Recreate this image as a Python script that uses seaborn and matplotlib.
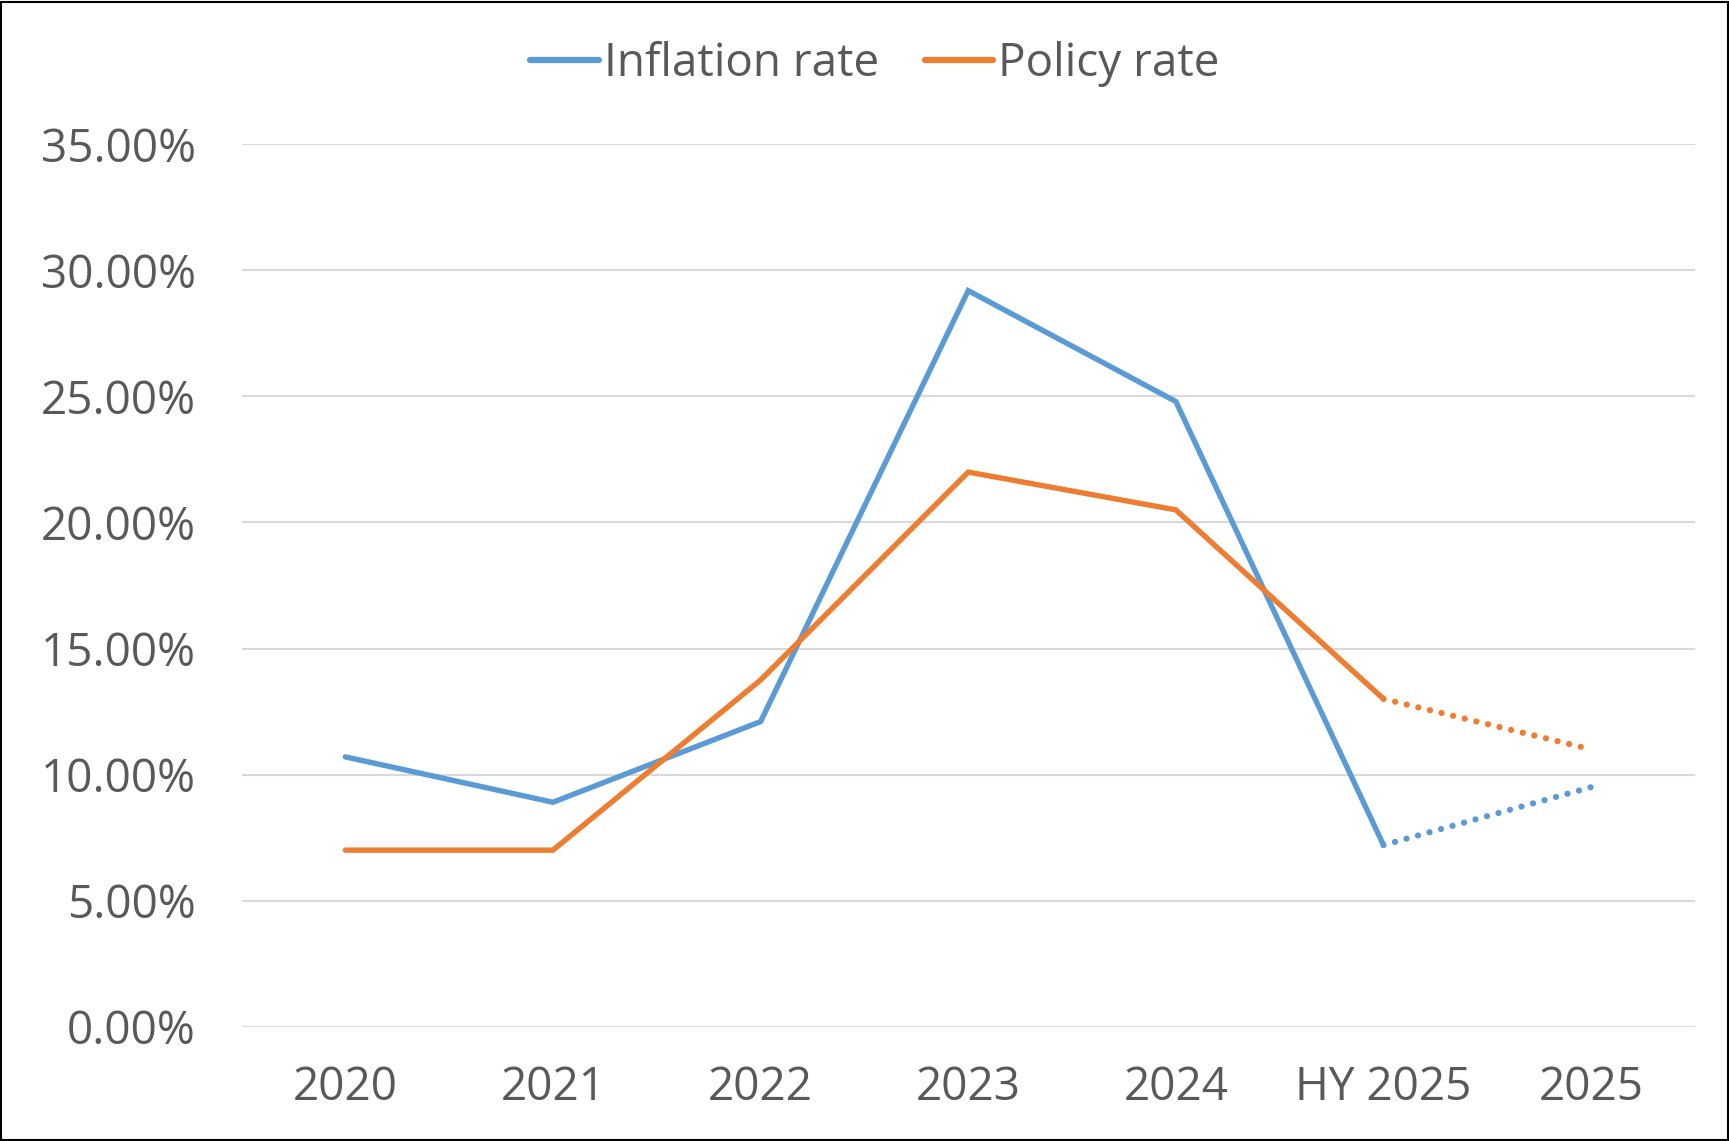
import matplotlib
matplotlib.use("Agg")
import matplotlib.pyplot as plt
import seaborn as sns
import pandas as pd
from matplotlib.patches import Rectangle
from matplotlib.ticker import FuncFormatter

categories = ["2020", "2021", "2022", "2023", "2024", "HY 2025", "2025"]
inflation = [10.7, 8.9, 12.1, 29.2, 24.8, 7.2, 9.5]
policy = [7.0, 7.0, 13.75, 22.0, 20.5, 13.0, 11.0]
series_names = ["Inflation rate", "Policy rate"]
y_ticks = [0, 5, 10, 15, 20, 25, 30, 35]

sns.set_theme(style="white")
fonts = ["Liberation Sans Narrow", "Open Sans", "DejaVu Sans"]
plt.rcParams["font.family"] = fonts
TXT = "#595959"
BLUE = "#5B9BD5"
ORANGE = "#ED7D31"

rows = []
for i, c in enumerate(categories):
    rows.append({"cat": c, "x": i, "val": inflation[i], "series": series_names[0]})
    rows.append({"cat": c, "x": i, "val": policy[i], "series": series_names[1]})
df = pd.DataFrame(rows)
split = 5  # index of HY 2025: solid up to it, dotted after
solid = df[df["x"] <= split]
dotted = df[df["x"] >= split]

fig = plt.figure(figsize=(17.29, 11.41), dpi=100)
ax = fig.add_axes([0.1397, 0.1003, 0.8406, 0.7731])

LW = 3.9
palette = {series_names[0]: BLUE, series_names[1]: ORANGE}
sns.lineplot(data=solid, x="x", y="val", hue="series", palette=palette,
             linewidth=LW, ax=ax, legend=True, solid_capstyle="round",
             solid_joinstyle="miter")
sns.lineplot(data=dotted, x="x", y="val", hue="series", palette=palette,
             linewidth=LW + 0.6, ax=ax, legend=False)
for line in ax.lines[-2:]:
    line.set_linestyle((0, (0.01, 1.9)))
    line.set_dash_capstyle("round")

ax.set_xlim(-0.5, len(categories) - 0.5)
ax.set_ylim(0, 35)
ax.set_xticks(range(len(categories)))
ax.set_xticklabels(categories)
ax.set_yticks(y_ticks)
ax.yaxis.set_major_formatter(FuncFormatter(lambda v, p: f"{v:.2f}%"))
ax.grid(axis="y", color="#D9D9D9", linewidth=1.5)
ax.set_axisbelow(True)
for s in ax.spines.values():
    s.set_visible(False)
ax.tick_params(axis="both", length=0, labelsize=33, colors=TXT)
ax.tick_params(axis="y", pad=33)
ax.tick_params(axis="x", pad=28)
ax.set_xlabel("")
ax.set_ylabel("")

handles, labels = ax.get_legend_handles_labels()
ax.get_legend().remove()
leg = fig.legend(handles[:2], labels[:2], loc="center", bbox_to_anchor=(0.506, 0.944),
                 ncol=2, frameon=False, fontsize=33, handlelength=1.5,
                 handletextpad=0.1, columnspacing=1.0)
for t in leg.get_texts():
    t.set_color(TXT)
for h in leg.legend_handles:
    h.set_linewidth(4.5)

fig.patches.append(Rectangle((0.0005, 0.0005), 0.999, 0.998, transform=fig.transFigure,
                             fill=False, edgecolor="black", linewidth=1.5))

fig.savefig("out.png", dpi=100)
